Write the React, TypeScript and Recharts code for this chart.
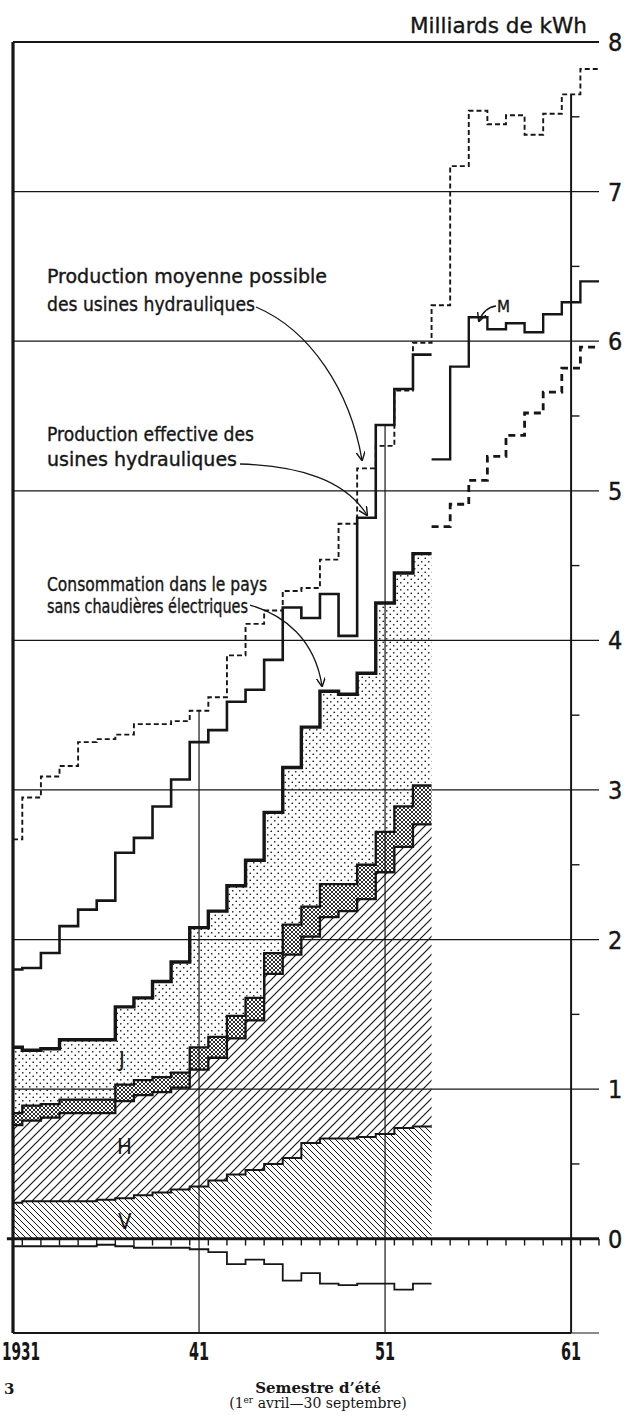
import React from 'react';
import { ComposedChart, Area, Line, XAxis, YAxis, CartesianGrid, ReferenceLine } from 'recharts';

// summer semesters, one step per year (year centred on its tick)
const YEARS = [1931, 1932, 1933, 1934, 1935, 1936, 1937, 1938, 1939, 1940, 1941, 1942,
  1943, 1944, 1945, 1946, 1947, 1948, 1949, 1950, 1951, 1952, 1953];
const FORECAST_YEARS = [1954, 1955, 1956, 1957, 1958, 1959, 1960, 1961, 1962];
const ALL_YEARS = [...YEARS, ...FORECAST_YEARS];

// Production moyenne possible (dashed, 1931-1962)
const POSSIBLE = [2.67, 2.95, 3.09, 3.16, 3.32, 3.34, 3.37, 3.44, 3.44, 3.46, 3.53, 3.62,
  3.90, 4.11, 4.20, 4.33, 4.35, 4.54, 4.78, 5.15, 5.30, 5.67, 5.99,
  6.24, 7.17, 7.54, 7.45, 7.51, 7.38, 7.52, 7.65, 7.82];
// Production effective (solid)
const EFFECTIVE = [1.80, 1.81, 1.91, 2.09, 2.20, 2.26, 2.58, 2.68, 2.89, 3.07, 3.32, 3.40,
  3.59, 3.67, 3.87, 4.22, 4.15, 4.31, 4.03, 4.82, 5.44, 5.68, 5.91];
// "M" line and lower dashed line, 1954-1962
const EFFECTIVE_M = [5.21, 5.83, 6.16, 6.08, 6.12, 6.06, 6.18, 6.26, 6.40];
const CONSUMPTION_FORECAST = [4.76, 4.91, 5.07, 5.23, 5.37, 5.52, 5.66, 5.82, 5.96];

// stacked bands: V, H, cross-hatched, J (top = consumption)
const V_TOP = [0.24, 0.25, 0.25, 0.25, 0.25, 0.26, 0.27, 0.29, 0.31, 0.33, 0.35, 0.39,
  0.43, 0.46, 0.50, 0.54, 0.64, 0.67, 0.67, 0.68, 0.70, 0.74, 0.75];
const H_TOP = [0.76, 0.79, 0.81, 0.84, 0.84, 0.84, 0.92, 0.96, 0.98, 1.01, 1.13, 1.21,
  1.34, 1.46, 1.77, 1.90, 2.02, 2.15, 2.19, 2.27, 2.45, 2.62, 2.77];
const X_TOP = [0.84, 0.89, 0.90, 0.93, 0.93, 0.93, 1.03, 1.06, 1.08, 1.11, 1.28, 1.35,
  1.49, 1.61, 1.91, 2.10, 2.22, 2.37, 2.37, 2.50, 2.72, 2.89, 3.03];
const CONSUMPTION = [1.28, 1.26, 1.27, 1.33, 1.33, 1.33, 1.55, 1.61, 1.72, 1.85, 2.08, 2.19,
  2.36, 2.53, 2.85, 3.15, 3.42, 3.66, 3.64, 3.78, 4.25, 4.45, 4.58];
// line below zero
const BELOW_ZERO = [-0.05, -0.05, -0.05, -0.05, -0.05, -0.04, -0.05, -0.06, -0.06, -0.06, -0.07, -0.09,
  -0.17, -0.14, -0.17, -0.28, -0.23, -0.30, -0.31, -0.30, -0.30, -0.34, -0.30];

const Y_TICKS = [0, 1, 2, 3, 4, 5, 6, 7, 8];
const X_TICKS = [1931, 1941, 1951, 1961];
const DECADE_LINES = [1941, 1951, 1961];
const HALF_TICKS = [0.5, 1.5, 2.5, 3.5, 4.5, 5.5, 6.5, 7.5];

const W = 635;
const H = 1419;
const X_MIN = 1931;
const X_MAX = 1962.5;
const Y_MIN = -0.63;
const Y_MAX = 8;
const INK = '#161616';
const LETTER = "'DejaVu Sans Condensed', 'Liberation Sans Narrow', 'DejaVu Sans', sans-serif";
const SERIF = "'DejaVu Serif', 'Liberation Serif', serif";

// each year's step runs from year-0.5 to year+0.5 (clipped to the left axis)
function stepRows(years: number[], values: number[]) {
  const rows = years.map((yr, i) => ({ x: Math.max(yr - 0.5, X_MIN), v: values[i] }));
  rows.push({ x: years[years.length - 1] + 0.5, v: values[values.length - 1] });
  return rows;
}

function bandRows(years: number[], lo: number[] | null, hi: number[]) {
  const rows = years.map((yr, i) => ({ x: Math.max(yr - 0.5, X_MIN), band: [lo ? lo[i] : 0, hi[i]] }));
  const last = rows[rows.length - 1];
  rows.push({ x: years[years.length - 1] + 0.5, band: last.band });
  return rows;
}

function topAt(year: number) {
  const i = ALL_YEARS.indexOf(year);
  const vals = [POSSIBLE[i]];
  if (i < EFFECTIVE.length) vals.push(EFFECTIVE[i]);
  else vals.push(EFFECTIVE_M[i - EFFECTIVE.length]);
  return Math.max(...vals);
}

const YTick = ({ x, y, payload }: any) => (
  <text x={x} y={y + 9} fontSize={25} fontFamily={LETTER} fill={INK} stroke={INK} strokeWidth={0.4}>
    {payload.value}
  </text>
);

const XTick = ({ x, y, payload }: any) => {
  const first = payload.value === X_TICKS[0];
  const label = first ? String(payload.value) : String(payload.value).slice(2);
  return (
    <text
      x={first ? x - 11 : x}
      y={y + 25}
      textAnchor={first ? 'start' : 'middle'}
      fontSize={24}
      fontWeight="bold"
      fontFamily={LETTER}
      textLength={first ? 38 : 20}
      lengthAdjust="spacingAndGlyphs"
      fill={INK}
    >
      {label}
    </text>
  );
};

const note = { fontFamily: LETTER, fill: INK, stroke: INK, strokeWidth: 0.35, lengthAdjust: 'spacingAndGlyphs' as const };
const arrow = { fill: 'none', stroke: INK, strokeWidth: 1.3, markerEnd: 'url(#arrowHead)' };
const bandLetter = { fontFamily: LETTER, fontSize: 22, fill: INK, stroke: '#fff', strokeWidth: 5, paintOrder: 'stroke' as const };

export default function App() {
  const possibleRows = stepRows(ALL_YEARS, POSSIBLE);
  const effectiveRows = stepRows(YEARS, EFFECTIVE);
  const mRows = stepRows(FORECAST_YEARS, EFFECTIVE_M);
  const forecastRows = stepRows(FORECAST_YEARS, CONSUMPTION_FORECAST);
  const belowRows = stepRows(YEARS, BELOW_ZERO);

  return (
    <div style={{ position: 'absolute', left: 0, top: 0, width: W, height: H, background: '#fff' }}>
      <ComposedChart width={W} height={H} margin={{ top: 42, right: 0, bottom: 56, left: 13 }}>
        <defs>
          <pattern id="patV" width="6" height="6" patternUnits="userSpaceOnUse">
            <path d="M-1,-1 L7,7 M-1,5 L1,7 M5,-1 L7,1" stroke={INK} strokeWidth={1} />
          </pattern>
          <pattern id="patH" width="9" height="9" patternUnits="userSpaceOnUse">
            <path d="M-1,10 L10,-1 M-1,1 L1,-1 M8,10 L10,8" stroke={INK} strokeWidth={1.2} />
          </pattern>
          <pattern id="patX" width="4" height="4" patternUnits="userSpaceOnUse">
            <rect width="4" height="4" fill="#fff" />
            <path d="M0,0 L4,4 M4,0 L0,4" stroke={INK} strokeWidth={0.9} />
          </pattern>
          <pattern id="patJ" width="7" height="7" patternUnits="userSpaceOnUse">
            <circle cx="1.75" cy="1.75" r="0.85" fill={INK} />
            <circle cx="5.25" cy="5.25" r="0.85" fill={INK} />
          </pattern>
          <marker id="arrowHead" viewBox="0 0 10 10" refX="9" refY="5" markerWidth="7" markerHeight="7" orient="auto">
            <path d="M0,0 L10,5 L0,10" fill="none" stroke={INK} strokeWidth={1.6} />
          </marker>
        </defs>

        <CartesianGrid vertical={false} stroke={INK} strokeWidth={1.2} />
        <XAxis
          dataKey="x"
          type="number"
          domain={[X_MIN, X_MAX]}
          allowDataOverflow
          ticks={X_TICKS}
          interval={0}
          height={30}
          axisLine={false}
          tickLine={false}
          tickSize={0}
          tick={<XTick />}
        />
        <YAxis
          orientation="right"
          type="number"
          domain={[Y_MIN, Y_MAX]}
          allowDataOverflow
          ticks={Y_TICKS}
          interval={0}
          width={36}
          axisLine={false}
          tickLine={false}
          tickSize={0}
          tickMargin={9}
          tick={<YTick />}
        />

        {/* stacked bands V / H / cross-hatch / J */}
        <Area type="stepAfter" data={bandRows(YEARS, null, V_TOP)} dataKey="band" stroke="none" fill="url(#patV)" fillOpacity={1} isAnimationActive={false} dot={false} activeDot={false} />
        <Area type="stepAfter" data={bandRows(YEARS, V_TOP, H_TOP)} dataKey="band" stroke="none" fill="url(#patH)" fillOpacity={1} isAnimationActive={false} dot={false} activeDot={false} />
        <Area type="stepAfter" data={bandRows(YEARS, H_TOP, X_TOP)} dataKey="band" stroke="none" fill="url(#patX)" fillOpacity={1} isAnimationActive={false} dot={false} activeDot={false} />
        <Area type="stepAfter" data={bandRows(YEARS, X_TOP, CONSUMPTION)} dataKey="band" stroke="none" fill="url(#patJ)" fillOpacity={1} isAnimationActive={false} dot={false} activeDot={false} />

        {/* frame */}
        <ReferenceLine segment={[{ x: X_MIN, y: Y_MIN }, { x: X_MIN, y: Y_MAX }]} stroke={INK} strokeWidth={3.2} ifOverflow="visible" />
        <ReferenceLine segment={[{ x: X_MIN, y: Y_MIN }, { x: 1961, y: Y_MIN }]} stroke={INK} strokeWidth={2.2} ifOverflow="visible" />
        <ReferenceLine y={Y_MAX} stroke={INK} strokeWidth={2} ifOverflow="visible" />
        <ReferenceLine segment={[{ x: 1930.67, y: 0 }, { x: X_MAX, y: 0 }]} stroke={INK} strokeWidth={3} ifOverflow="visible" />
        {DECADE_LINES.map((yr) => (
          <ReferenceLine
            key={yr}
            segment={[{ x: yr, y: Y_MIN }, { x: yr, y: topAt(yr) }]}
            stroke={INK}
            strokeWidth={yr === 1961 ? 2 : 1.2}
            ifOverflow="visible"
          />
        ))}
        {ALL_YEARS.map((yr) => (
          <ReferenceLine key={'t' + yr} segment={[{ x: yr + 0.5, y: 0 }, { x: yr + 0.5, y: -0.045 }]} stroke={INK} strokeWidth={1.4} ifOverflow="visible" />
        ))}
        {HALF_TICKS.map((v) => (
          <ReferenceLine key={'h' + v} segment={[{ x: 1961, y: v }, { x: 1961.45, y: v }]} stroke={INK} strokeWidth={1.4} ifOverflow="visible" />
        ))}

        {/* band edges */}
        <Line type="stepAfter" data={stepRows(YEARS, V_TOP)} dataKey="v" stroke={INK} strokeWidth={2} dot={false} activeDot={false} isAnimationActive={false} />
        <Line type="stepAfter" data={stepRows(YEARS, H_TOP)} dataKey="v" stroke={INK} strokeWidth={2.3} dot={false} activeDot={false} isAnimationActive={false} />
        <Line type="stepAfter" data={stepRows(YEARS, X_TOP)} dataKey="v" stroke={INK} strokeWidth={2.3} dot={false} activeDot={false} isAnimationActive={false} />
        <Line type="stepAfter" data={stepRows(YEARS, CONSUMPTION)} dataKey="v" stroke={INK} strokeWidth={3.4} dot={false} activeDot={false} isAnimationActive={false} />

        {/* production lines */}
        <Line type="stepAfter" data={possibleRows} dataKey="v" stroke={INK} strokeWidth={1.9} strokeDasharray="5 3" dot={false} activeDot={false} isAnimationActive={false} />
        <Line type="stepAfter" data={effectiveRows} dataKey="v" stroke={INK} strokeWidth={2.6} dot={false} activeDot={false} isAnimationActive={false} />
        <Line type="stepAfter" data={mRows} dataKey="v" stroke={INK} strokeWidth={2.4} dot={false} activeDot={false} isAnimationActive={false} />
        <Line type="stepAfter" data={forecastRows} dataKey="v" stroke={INK} strokeWidth={2.8} strokeDasharray="7 5" dot={false} activeDot={false} isAnimationActive={false} />
        <Line type="stepAfter" data={belowRows} dataKey="v" stroke={INK} strokeWidth={1.8} dot={false} activeDot={false} isAnimationActive={false} />

        {/* hand-lettered notes */}
        <text x={410} y={33} fontSize={22} textLength={177} {...note}>Milliards de kWh</text>
        <text x={47} y={283} fontSize={20} textLength={280} {...note}>Production moyenne possible</text>
        <text x={47} y={311} fontSize={20} textLength={208} {...note}>des usines hydrauliques</text>
        <text x={47} y={441} fontSize={20} textLength={207} {...note}>Production effective des</text>
        <text x={47} y={466} fontSize={20} textLength={190} {...note}>usines hydrauliques</text>
        <text x={47} y={591} fontSize={19} textLength={220} {...note}>Consommation dans le pays</text>
        <text x={47} y={613} fontSize={19} textLength={201} {...note}>sans chaudières électriques</text>
        <text x={497} y={312} fontSize={15} textLength={13} {...note}>M</text>
        <path d="M256,307 C310,330 350,390 362,460" {...arrow} />
        <path d="M240,464 C300,466 345,480 367,515" {...arrow} />
        <path d="M250,605 C285,615 315,640 322,686" {...arrow} />
        <path d="M496,306 C488,307 482,313 479,321" {...arrow} />

        <text x={119} y={1067} {...bandLetter}>J</text>
        <text x={117} y={1154} {...bandLetter}>H</text>
        <text x={118} y={1229} {...bandLetter}>V</text>

        <text x={4} y={1394} fontSize={15} fontWeight="bold" fontFamily={SERIF} fill={INK}>3</text>
        <text x={318} y={1393} fontSize={15} fontWeight="bold" fontFamily={SERIF} textAnchor="middle" fill={INK}>
          Semestre d’été
        </text>
        <text x={318} y={1408} fontSize={14} fontFamily={SERIF} textAnchor="middle" fill={INK}>
          (1<tspan fontSize={9} dy={-5}>er</tspan><tspan dy={5}> avril—30 septembre)</tspan>
        </text>
      </ComposedChart>
    </div>
  );
}
